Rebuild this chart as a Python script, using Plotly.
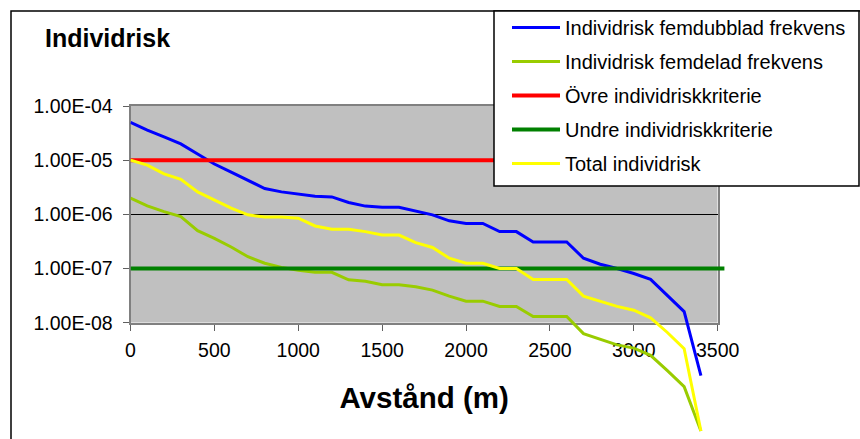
import plotly.graph_objects as go

# ---------------- data ----------------
distance_m = [0, 100, 200, 300, 400, 500, 600, 700, 800, 900, 1000, 1100, 1200,
              1300, 1400, 1500, 1600, 1700, 1800, 1900, 2000, 2100, 2200, 2300,
              2400, 2500, 2600, 2700, 2800, 2900, 3000, 3100, 3200, 3300, 3400]

risk_femdubblad = [5.0e-5, 3.6e-5, 2.7e-5, 2.0e-5, 1.3e-5, 8.5e-6, 6.0e-6, 4.2e-6,
                   3.0e-6, 2.6e-6, 2.4e-6, 2.15e-6, 2.1e-6, 1.66e-6, 1.42e-6,
                   1.35e-6, 1.35e-6, 1.15e-6, 9.8e-7, 7.6e-7, 6.8e-7, 6.8e-7,
                   4.8e-7, 4.8e-7, 3.1e-7, 3.1e-7, 3.1e-7, 1.55e-7, 1.2e-7,
                   1.0e-7, 8.1e-8, 6.3e-8, 3.2e-8, 1.6e-8, 1.05e-9]

risk_femdelad = [2.0e-6, 1.43e-6, 1.12e-6, 9.1e-7, 5.0e-7, 3.6e-7, 2.5e-7, 1.65e-7,
                 1.25e-7, 1.05e-7, 9.3e-8, 8.5e-8, 8.5e-8, 6.2e-8, 5.8e-8, 5.0e-8,
                 5.0e-8, 4.6e-8, 4.0e-8, 3.1e-8, 2.5e-8, 2.5e-8, 2.0e-8, 2.0e-8,
                 1.3e-8, 1.3e-8, 1.3e-8, 6.3e-9, 4.9e-9, 3.9e-9, 3.4e-9, 2.5e-9,
                 1.3e-9, 6.6e-10, 1.0e-10]

risk_total = [1.0e-5, 8.1e-6, 5.6e-6, 4.45e-6, 2.6e-6, 1.84e-6, 1.3e-6, 9.8e-7,
              8.9e-7, 8.9e-7, 8.5e-7, 6.1e-7, 5.3e-7, 5.3e-7, 4.8e-7, 4.15e-7,
              4.15e-7, 3.0e-7, 2.45e-7, 1.55e-7, 1.25e-7, 1.25e-7, 1.0e-7, 1.0e-7,
              6.3e-8, 6.3e-8, 6.3e-8, 3.1e-8, 2.46e-8, 2.0e-8, 1.7e-8, 1.23e-8,
              6.6e-9, 3.3e-9, 1.0e-10]

criteria_x = [0, 3540]
upper_criterion = [1.0e-5, 1.0e-5]
lower_criterion = [1.0e-7, 1.0e-7]

x_tickvals = [0, 500, 1000, 1500, 2000, 2500, 3000, 3500]
y_tickvals = [1e-8, 1e-7, 1e-6, 1e-5, 1e-4]
y_ticktext = ["1.00E-08", "1.00E-07", "1.00E-06", "1.00E-05", "1.00E-04"]

# ---------------- geometry (pixels) ----------------
W, H = 860, 439
PX_L, PX_R = 130.5, 717.7          # x = 0 and x = 3500
PY_T, PY_B = 106.0, 322.7          # y = 1e-4 and y = 1e-8
X_MAX = 3500.0
px_per_m = (PX_R - PX_L) / X_MAX
px_per_dec = (PY_B - PY_T) / 4.0

# extended (invisible) axes for the data so lines can run outside the grey area
X2_MAX = 3600.0
x2_right = PX_L + X2_MAX * px_per_m
y2_bottom_px = H
y2_low = -4.0 - (y2_bottom_px - PY_T) / px_per_dec

font_fam = "Liberation Sans, Arial, sans-serif"

fig = go.Figure()

# anchor trace for the visible axes
fig.add_trace(go.Scatter(x=[], y=[], xaxis="x", yaxis="y", showlegend=False,
                         hoverinfo="skip"))

series = [
    ("Individrisk femdubblad frekvens", distance_m, risk_femdubblad, "#0000FF", 3),
    ("Individrisk femdelad frekvens", distance_m, risk_femdelad, "#99CC00", 3),
    ("Övre individriskkriterie", criteria_x, upper_criterion, "#FF0000", 4),
    ("Undre individriskkriterie", criteria_x, lower_criterion, "#008000", 4),
    ("Total individrisk", distance_m, risk_total, "#FFFF00", 3),
]
for i, (name, xs, ys, col, w) in enumerate(series):
    fig.add_trace(go.Scatter(x=xs, y=ys, name=name, mode="lines",
                             line=dict(color=col, width=w),
                             xaxis="x2", yaxis="y2", legendgroup=f"g{i}"))

fig.update_layout(
    template="none",
    width=W, height=H,
    margin=dict(l=0, r=0, t=0, b=0, pad=0, autoexpand=False),
    paper_bgcolor="white",
    plot_bgcolor="rgba(0,0,0,0)",
    font=dict(family=font_fam, size=20, color="black"),
    title=dict(text="<b>Individrisk</b>", x=45 / W, xanchor="left",
               y=1 - 38 / H, yanchor="middle",
               font=dict(family=font_fam, size=25, color="black")),
    xaxis=dict(domain=[PX_L / W, PX_R / W], range=[0, X_MAX], anchor="y",
               automargin=False,
               tickmode="array", tickvals=x_tickvals,
               showgrid=False, zeroline=False,
               showline=True, mirror=True, linecolor="#808080", linewidth=2,
               ticks="outside", ticklen=6, tickcolor="#606060", tickwidth=1,
               tickfont=dict(size=19.5), ticklabelstandoff=3,
               title=dict(text="<b>Avstånd (m)</b>",
                          font=dict(family=font_fam, size=29.5), standoff=27)),
    yaxis=dict(domain=[(H - PY_B) / H, (H - PY_T) / H], type="log",
               range=[-8, -4], anchor="x", automargin=False,
               tickmode="array", tickvals=y_tickvals, ticktext=y_ticktext,
               showgrid=True, gridcolor="black", gridwidth=1,
               zeroline=False,
               showline=True, mirror=True, linecolor="#808080", linewidth=2,
               ticks="outside", ticklen=6, tickcolor="#606060", tickwidth=1,
               tickfont=dict(size=19.5), ticklabelstandoff=6),
    xaxis2=dict(domain=[PX_L / W, x2_right / W], range=[0, X2_MAX],
                anchor="y2", visible=False, automargin=False),
    yaxis2=dict(domain=[0, (H - PY_T) / H], type="log",
                range=[y2_low, -4], anchor="x2", visible=False,
                automargin=False),
    legend=dict(x=507 / W, y=1 - 8 / H, xanchor="left", yanchor="top",
                bgcolor="rgba(0,0,0,0)", borderwidth=0,
                font=dict(family=font_fam, size=20),
                tracegroupgap=5, itemwidth=48),
    shapes=[
        # grey plot area
        dict(type="rect", xref="x", yref="y", x0=0, x1=X_MAX, y0=1e-8, y1=1e-4,
             fillcolor="#C0C0C0", line=dict(width=0), layer="below"),
        # outer chart frame
        dict(type="rect", xref="paper", yref="paper", x0=11 / W, x1=1.2,
             y0=-0.2, y1=1 - 11 / H, fillcolor="rgba(0,0,0,0)",
             line=dict(color="black", width=1.5), layer="above"),
        # legend box
        dict(type="rect", xref="paper", yref="paper", x0=494 / W, x1=859 / W,
             y0=1 - 186 / H, y1=1 - 11 / H, fillcolor="white",
             line=dict(color="black", width=1.5), layer="above"),
    ],
)

fig.write_html("out.html")
